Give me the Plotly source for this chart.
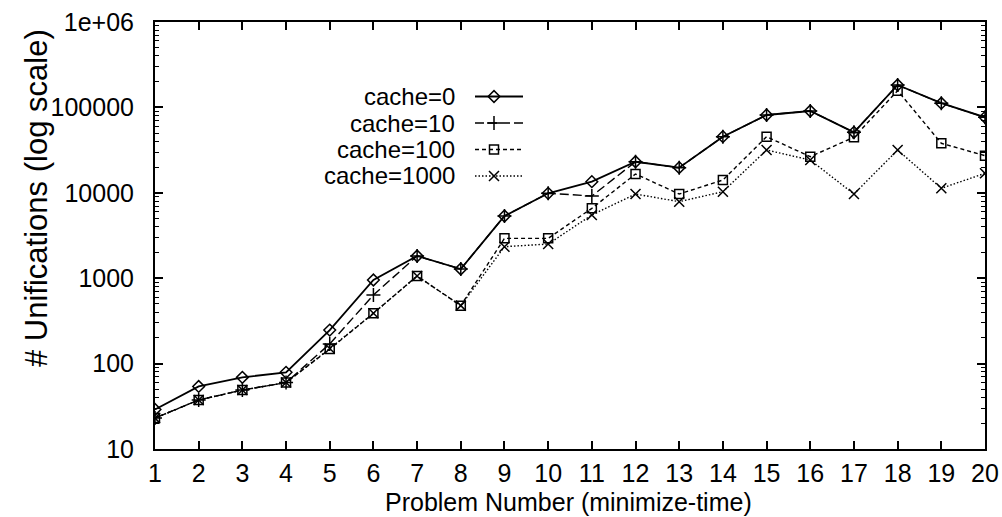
import plotly.graph_objects as go

# Unification counts per problem, one list per cache size
problems = list(range(1, 21))
cache_0 = [29, 54, 69, 79, 247, 952, 1820, 1282, 5350, 9860,
           13500, 23100, 19700, 45400, 81500, 90800, 51100, 183000, 112000, 76600]
cache_10 = [23, 37.5, 49, 60, 170, 636, 1820, 1282, 5350, 9860,
            9180, 23100, 19700, 45400, 81500, 90800, 51100, 183000, 112000, 76600]
cache_100 = [23, 37.5, 49, 60, 148, 388, 1061, 477, 2930, 2930,
             6580, 16600, 9680, 14100, 45400, 26500, 44700, 157000, 38000, 27200]
cache_1000 = [23, 37.5, 49, 60, 150, 388, 1061, 477, 2340, 2510,
              5500, 9680, 7870, 10300, 31700, 24200, 9680, 31700, 11300, 16900]

series_names = ["cache=0", "cache=10", "cache=100", "cache=1000"]
y_tick_vals = [10, 100, 1000, 10000, 100000, 1000000]
y_tick_text = ["10", "100", "1000", "10000", "100000", "1e+06"]
x_title = "Problem Number (minimize-time)"
y_title = "# Unifications (log scale)"

FONT = "Liberation Sans, Arial, Helvetica, sans-serif"
FS_TICK = 25
FS_KEY = 24
FS_XTITLE = 25
FS_YTITLE = 31

styles = [
    dict(dash="solid", width=1.8, symbol="diamond-open", size=9),
    dict(dash="9px,4px", width=1.4, symbol="cross-thin", size=10),
    dict(dash="4px,3px", width=1.4, symbol="square-open", size=9),
    dict(dash="1.5px,2px", width=1.4, symbol="x-thin", size=10),
]

fig = go.Figure()
for name, vals, st in zip(series_names, [cache_0, cache_10, cache_100, cache_1000], styles):
    fig.add_trace(go.Scatter(
        x=problems, y=vals, mode="lines+markers", name=name, showlegend=False,
        line=dict(color="black", width=st["width"], dash=st["dash"]),
        marker=dict(symbol=st["symbol"], size=st["size"], color="black",
                    line=dict(color="black", width=1.5)),
    ))

# Plot-area edges in page pixels
L, R, T, B = 155, 985, 22, 449


def px_to_paper(px, py):
    """Convert a page-pixel position to paper coordinates of the plot area."""
    return (px - L) / (R - L), (B - py) / (B - T)


# Hand-drawn key: label on the left, line sample with marker on the right.
key_rows = [96.5, 123, 149.5, 176]
key_text_right = 457
key_line = (475, 523)
key_marker = 494
for name, st, ry in zip(series_names, styles, key_rows):
    x0, yk = px_to_paper(key_line[0], ry)
    x1, _ = px_to_paper(key_line[1], ry)
    xm, _ = px_to_paper(key_marker, ry)
    xt, _ = px_to_paper(key_text_right, ry)
    fig.add_trace(go.Scatter(
        x=[x0, x1], y=[yk, yk], mode="lines", xaxis="x2", yaxis="y2",
        showlegend=False, hoverinfo="skip",
        line=dict(color="black", width=st["width"], dash=st["dash"]),
    ))
    fig.add_trace(go.Scatter(
        x=[xm], y=[yk], mode="markers", xaxis="x2", yaxis="y2",
        showlegend=False, hoverinfo="skip",
        marker=dict(symbol=st["symbol"], size=st["size"], color="black",
                    line=dict(color="black", width=1.5)),
    ))
    fig.add_annotation(x=xt, y=yk, xref="paper", yref="paper", text=name,
                       showarrow=False, xanchor="right", yanchor="middle",
                       font=dict(family=FONT, size=FS_KEY, color="black"))

# Axis titles
xt_x, xt_y = px_to_paper(568, 502)
fig.add_annotation(x=xt_x, y=xt_y, xref="paper", yref="paper", text=x_title,
                   showarrow=False, xanchor="center", yanchor="middle",
                   font=dict(family=FONT, size=FS_XTITLE, color="black"))
yt_x, yt_y = px_to_paper(36, 198)
fig.add_annotation(x=yt_x, y=yt_y, xref="paper", yref="paper", text=y_title,
                   textangle=-90, showarrow=False, xanchor="center", yanchor="middle",
                   font=dict(family=FONT, size=FS_YTITLE, color="black"))

minor_vals = [m * 10 ** k for k in range(1, 6) for m in range(2, 10)]

fig.update_layout(
    width=1002, height=517,
    margin=dict(l=L, r=1002 - R, t=T, b=517 - B, autoexpand=False),
    paper_bgcolor="white", plot_bgcolor="white",
    font=dict(family=FONT, size=FS_TICK, color="black"),
    xaxis=dict(
        range=[1, 20], tickmode="array", tickvals=problems,
        ticks="inside", ticklen=8, tickwidth=1.5, tickcolor="black",
        showline=True, linecolor="black", linewidth=2, mirror="ticks",
        showgrid=False, zeroline=False, ticklabelstandoff=1,
    ),
    yaxis=dict(
        type="log", range=[1, 6], tickmode="array",
        tickvals=y_tick_vals, ticktext=y_tick_text,
        ticks="inside", ticklen=8, tickwidth=1.5, tickcolor="black",
        minor=dict(tickmode="array", tickvals=minor_vals, ticks="inside",
                   ticklen=4, tickwidth=1, tickcolor="black", showgrid=False),
        showline=True, linecolor="black", linewidth=2, mirror="ticks",
        showgrid=False, zeroline=False, ticklabelstandoff=14,
    ),
    xaxis2=dict(range=[0, 1], overlaying="x", visible=False, fixedrange=True),
    yaxis2=dict(range=[0, 1], overlaying="y", visible=False, fixedrange=True),
)

fig.write_html("out.html")
